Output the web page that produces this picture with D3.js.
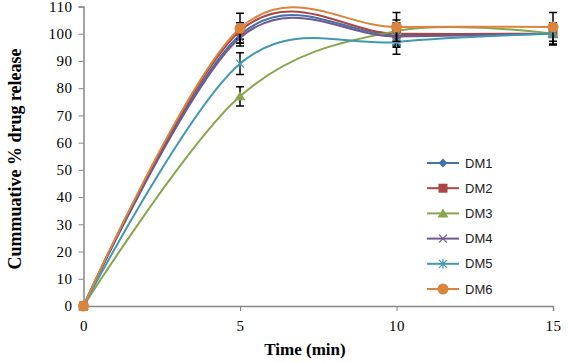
<!DOCTYPE html>
<html><head><meta charset="utf-8">
<script src="https://cdn.jsdelivr.net/npm/d3@7"></script>
<style>body{margin:0;background:#fff}</style>
</head><body>
<svg id="c" width="570" height="362"></svg>
<script>
const times = [0, 5, 10, 15];
const seriesNames = ["DM1", "DM2", "DM3", "DM4", "DM5", "DM6"];
const dm1 = [0, 99.5, 99.5, 100];
const dm2 = [0, 101, 100, 100];
const dm3 = [0, 77, 101, 100];
const dm4 = [0, 98.5, 99, 100];
const dm5 = [0, 89, 97, 100];
const dm6 = [0, 102, 102.5, 102.5];
const err1 = [0, 3, 4, 4];
const err2 = [0, 3, 4, 4];
const err3 = [0, 3.5, 4, 4];
const err4 = [0, 3, 4, 4];
const err5 = [0, 4, 4.5, 4];
const err6 = [0, 5.5, 5.3, 5.3];
const xTicks = [0, 5, 10, 15];
const yTicks = [0, 10, 20, 30, 40, 50, 60, 70, 80, 90, 100, 110];

const colors = ["#4572A7", "#AA4643", "#89A54E", "#71588F", "#4198AF", "#DB843D"];
const markers = ["diamond", "square", "triangle", "x", "asterisk", "circle"];
const values = [dm1, dm2, dm3, dm4, dm5, dm6];
const errs = [err1, err2, err3, err4, err5, err6];

const svg = d3.select("#c");
const x = d3.scaleLinear().domain([0, 15]).range([83.5, 553]);
const y = d3.scaleLinear().domain([0, 110]).range([306, 6.5]);

const xAxis = svg.append("g").attr("transform", "translate(0,306)")
  .call(d3.axisBottom(x).tickValues(xTicks).tickSize(5).tickPadding(6));
const yAxis = svg.append("g").attr("transform", "translate(83.5,0)")
  .call(d3.axisLeft(y).tickValues(yTicks).tickSize(5).tickPadding(6));
[xAxis, yAxis].forEach(a => {
  a.select(".domain").attr("stroke", "#868686").attr("stroke-width", 1.5);
  a.selectAll(".tick line").attr("stroke", "#868686");
  a.selectAll(".tick text").attr("font-family", "Liberation Serif, Times New Roman, serif")
    .attr("font-size", 15).attr("fill", "#000").attr("letter-spacing", "0.5px");
});
xAxis.selectAll(".tick text").attr("dy", "0.95em");

svg.append("text").attr("x", 305).attr("y", 355).attr("text-anchor", "middle")
  .attr("font-family", "Liberation Serif, Times New Roman, serif").attr("font-weight", "bold")
  .attr("font-size", 17).text("Time (min)");
svg.append("text").attr("transform", "translate(21,159) rotate(-90)").attr("text-anchor", "middle")
  .attr("font-family", "Liberation Serif, Times New Roman, serif").attr("font-weight", "bold")
  .attr("font-size", 18).text("Cummuative % drug release");

const line = d3.line().x(d => x(d[0])).y(d => y(d[1])).curve(d3.curveCardinal.tension(0));

function drawMarker(g, type, cx, cy, color) {
  const s = 4.5;
  if (type === "diamond") {
    g.append("path").attr("d", `M${cx},${cy-s}L${cx+s},${cy}L${cx},${cy+s}L${cx-s},${cy}Z`).attr("fill", color);
  } else if (type === "square") {
    g.append("rect").attr("x", cx-4.5).attr("y", cy-4.5).attr("width", 9).attr("height", 9).attr("fill", color);
  } else if (type === "triangle") {
    g.append("path").attr("d", `M${cx},${cy-5}L${cx+5.5},${cy+4}L${cx-5.5},${cy+4}Z`).attr("fill", color);
  } else if (type === "x") {
    g.append("path").attr("d", `M${cx-4},${cy-4}L${cx+4},${cy+4}M${cx-4},${cy+4}L${cx+4},${cy-4}`)
      .attr("stroke", color).attr("stroke-width", 1.2);
  } else if (type === "asterisk") {
    g.append("path").attr("d", `M${cx-4},${cy-4}L${cx+4},${cy+4}M${cx-4},${cy+4}L${cx+4},${cy-4}M${cx},${cy-5}L${cx},${cy+5}`)
      .attr("stroke", color).attr("stroke-width", 1.2);
  } else if (type === "circle") {
    g.append("circle").attr("cx", cx).attr("cy", cy).attr("r", 5.5).attr("fill", color);
  }
}

seriesNames.forEach((name, i) => {
  const g = svg.append("g");
  const pts = times.map((t, j) => [t, values[i][j]]);
  g.append("path").attr("d", line(pts)).attr("fill", "none")
    .attr("stroke", colors[i]).attr("stroke-width", 2);
  times.forEach((t, j) => {
    const e = errs[i][j];
    if (!e) return;
    const cx = x(t), y1 = y(values[i][j] + e), y2 = y(values[i][j] - e);
    g.append("path").attr("d", `M${cx},${y1}L${cx},${y2}M${cx-4},${y1}L${cx+4},${y1}M${cx-4},${y2}L${cx+4},${y2}`)
      .attr("stroke", "#000").attr("stroke-width", 1.5).attr("fill", "none");
  });
  times.forEach((t, j) => drawMarker(g, markers[i], x(t), y(values[i][j]), colors[i]));
});

const leg = svg.append("g");
seriesNames.forEach((name, i) => {
  const ly = 163 + i * 25.2;
  leg.append("line").attr("x1", 427).attr("x2", 459).attr("y1", ly).attr("y2", ly)
    .attr("stroke", colors[i]).attr("stroke-width", 2);
  drawMarker(leg, markers[i], 443, ly, colors[i]);
  leg.append("text").attr("x", 465).attr("y", ly + 4.5)
    .attr("font-family", "Liberation Sans, Arial, sans-serif").attr("font-size", 13)
    .attr("fill", "#222").text(name);
});
</script>
</body></html>
